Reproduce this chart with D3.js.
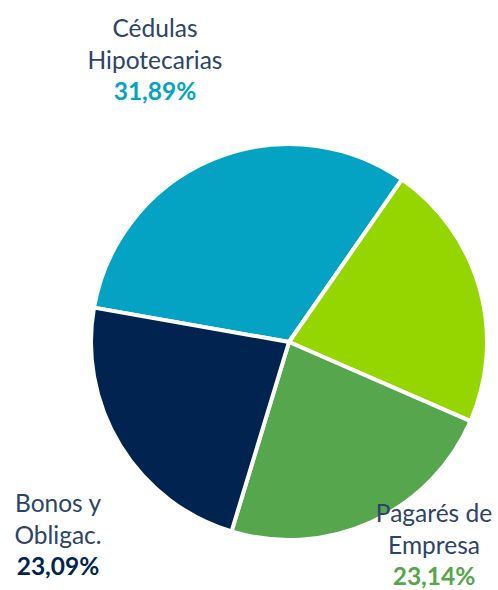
<!DOCTYPE html>
<html>
<head>
<meta charset="utf-8">
<script src="https://cdn.jsdelivr.net/npm/d3@7"></script>
<style>
  body { margin: 0; background: #fff; }
  svg { display: block; }
  text { font-family: Lato, "Open Sans", sans-serif; }
</style>
</head>
<body>
<svg id="chart" width="498" height="590"></svg>
<script>
// data (clockwise, starting with Cédulas)
const categories = ["Cédulas Hipotecarias", "Otros", "Pagarés de Empresa", "Bonos y Obligac."];
const shares = [31.89, 21.88, 23.14, 23.09];
const shareLabels = ["31,89%", "", "23,14%", "23,09%"];
const labelLines = [["Cédulas", "Hipotecarias"], [], ["Pagarés de", "Empresa"], ["Bonos y", "Obligac."]];
const colors = ["#04a2c3", "#95d600", "#55a64c", "#00244f"];

const svg = d3.select("#chart");
const cx = 289, cy = 342, radius = 198;

const pie = d3.pie()
  .sort(null)
  .value(d => d.value)
  .startAngle(-80 * Math.PI / 180)
  .endAngle(280 * Math.PI / 180);

const slices = pie(categories.map((c, i) => ({ name: c, value: shares[i], color: colors[i] })));

const arc = d3.arc().innerRadius(0).outerRadius(radius);

const g = svg.append("g").attr("transform", `translate(${cx},${cy})`);

g.selectAll("path")
  .data(slices)
  .join("path")
  .attr("d", arc)
  .attr("fill", d => d.data.color)
  .attr("stroke", "#fff")
  .attr("stroke-width", 4)
  .attr("stroke-linejoin", "round");

// label blocks, placed around the pie
const labelPos = [
  { x: 155, y: 37 },
  null,
  { x: 434, y: 522 },
  { x: 58, y: 512 }
];
const lineGap = 31.5;

categories.forEach((c, i) => {
  if (!labelPos[i]) return;
  const t = svg.append("g").attr("transform", `translate(${labelPos[i].x},${labelPos[i].y})`);
  labelLines[i].forEach((line, j) => {
    t.append("text")
      .attr("y", j * lineGap)
      .attr("text-anchor", "middle")
      .style("font-size", "24.5px")
      .style("fill", "#2c4467")
      .text(line);
  });
  t.append("text")
    .attr("y", labelLines[i].length * lineGap)
    .attr("text-anchor", "middle")
    .style("font-size", "24.5px")
    .style("font-weight", "bold")
    .style("fill", colors[i])
    .text(shareLabels[i]);
});
</script>
</body>
</html>
